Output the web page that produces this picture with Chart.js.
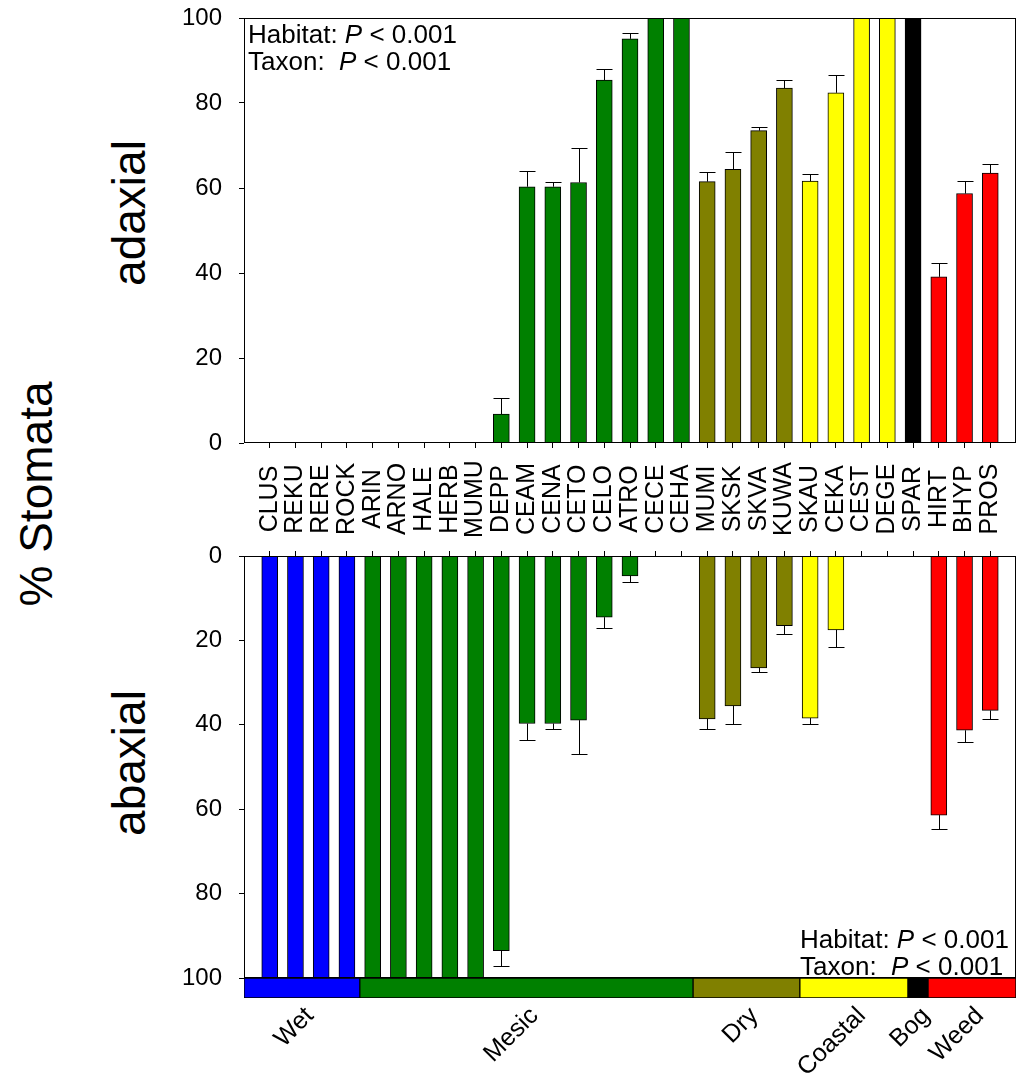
<!DOCTYPE html>
<html>
<head>
<meta charset="utf-8">
<script src="https://cdn.jsdelivr.net/npm/chart.js@4.4.1/dist/chart.umd.min.js"></script>
<style>
  body { margin: 0; background: #fff; }
  #wrap { position: relative; width: 1020px; height: 1076px; font-family: "Liberation Sans", Arial, sans-serif; }
  canvas { position: absolute; left: 0; }
  .title { position: absolute; font-size: 46px; line-height: 1.15; white-space: nowrap; transform: translate(-50%, -50%) rotate(-90deg); }
</style>
</head>
<body>
<div id="wrap">
  <div class="title" style="left:36px; top:494px">% Stomata</div>
  <div class="title" style="left:129px; top:213px">adaxial</div>
  <div class="title" style="left:129px; top:763px">abaxial</div>
  <canvas id="top" width="1020" height="548" style="top:0"></canvas>
  <canvas id="bottom" width="1020" height="460" style="top:540px"></canvas>
  <canvas id="strip" width="1020" height="106" style="top:970px"></canvas>
</div>
<script>
// species codes, left to right
const categories = ['CLUS', 'REKU', 'RERE', 'ROCK', 'ARIN', 'ARNO', 'HALE', 'HERB', 'MUMU', 'DEPP',
  'CEAM', 'CENA', 'CETO', 'CELO', 'ATRO', 'CECE', 'CEHA', 'MUMI', 'SKSK', 'SKVA', 'KUWA',
  'SKAU', 'CEKA', 'CEST', 'DEGE', 'SPAR', 'HIRT', 'BHYP', 'PROS'];
const habitatOf = ['Wet', 'Wet', 'Wet', 'Wet',
  'Mesic', 'Mesic', 'Mesic', 'Mesic', 'Mesic', 'Mesic', 'Mesic', 'Mesic', 'Mesic', 'Mesic', 'Mesic', 'Mesic', 'Mesic',
  'Dry', 'Dry', 'Dry', 'Dry', 'Coastal', 'Coastal', 'Coastal', 'Coastal', 'Bog', 'Weed', 'Weed', 'Weed'];

// % stomata, upper panel (adaxial) and lower panel (abaxial), with +SE
const adaxial    = [0, 0, 0, 0, 0, 0, 0, 0, 0, 6.8, 60.3, 60.3, 61.3, 85.4, 95.1, 100, 100,
  61.5, 64.4, 73.5, 83.5, 61.6, 82.4, 100, 100, 100, 39.1, 58.7, 63.5];
const adaxialErr = [0, 0, 0, 0, 0, 0, 0, 0, 0, 3.8, 3.8, 1.2, 8.2, 2.5, 1.4, 0, 0,
  2.3, 4.1, 0.9, 1.8, 1.6, 4.1, 0, 0, 0, 3.3, 2.9, 2.1];
const abaxial    = [100, 100, 100, 100, 100, 100, 100, 100, 100, 93.5, 39.7, 39.7, 38.9, 14.5, 4.7, 0, 0,
  38.6, 35.5, 26.5, 16.5, 38.4, 17.5, 0, 0, 0, 61.4, 41.3, 36.6];
const abaxialErr = [0, 0, 0, 0, 0, 0, 0, 0, 0, 3.6, 3.8, 1.2, 8.0, 2.5, 1.5, 0, 0,
  2.4, 4.2, 0.9, 1.9, 1.4, 4.1, 0, 0, 0, 3.2, 2.8, 2.0];

// habitat strip under the lower panel
const habitats = ['Wet', 'Mesic', 'Dry', 'Coastal', 'Bog', 'Weed'];
const habitatColors = ['#0000ff', '#008000', '#808000', '#ffff00', '#000000', '#ff0000'];
const habitatSpan = [4.5, 12.95, 4.15, 4.2, 0.78, 3.42];

const yTicks = [0, 20, 40, 60, 80, 100];
const statsLines = [['Habitat: ', 'P', ' < 0.001'], ['Taxon:  ', 'P', ' < 0.001']];

Chart.defaults.font.family = '"Liberation Sans", Arial, sans-serif';
Chart.defaults.color = '#000';

// one empty slot at each end, like the original axis
const xLabels = ['', ...categories, ''];
const pad = arr => [null, ...arr, null];
const barColors = habitatOf.map(h => habitatColors[habitats.indexOf(h)]);
const edgeHidden = c => (c.index === 0 || c.index === xLabels.length - 1) ? 'rgba(0,0,0,0)' : '#000';

const errorBars = (errs) => ({
  id: 'errorBars',
  afterDatasetsDraw(chart) {
    const { ctx, scales: { x, y } } = chart;
    const vals = chart.data.datasets[0].data;
    ctx.save();
    ctx.strokeStyle = '#000';
    ctx.lineWidth = 1;
    errs.forEach((e, i) => {
      if (!e) return;
      const v = vals[i + 1];
      const px = Math.round(x.getPixelForValue(i + 1)) + 0.5;
      const y0 = y.getPixelForValue(v);
      const y1 = Math.round(y.getPixelForValue(v + e)) + 0.5;
      ctx.beginPath();
      ctx.moveTo(px, y0);
      ctx.lineTo(px, y1);
      ctx.moveTo(px - 8, y1);
      ctx.lineTo(px + 8, y1);
      ctx.stroke();
    });
    ctx.restore();
  }
});

const frame = {
  id: 'frame',
  afterDraw(chart) {
    const { ctx, chartArea: a } = chart;
    ctx.save();
    ctx.strokeStyle = '#000';
    ctx.lineWidth = 1;
    ctx.strokeRect(a.left + 0.5, a.top + 0.5, a.width - 1, a.height - 1);
    ctx.restore();
  }
};

const catLabels = {
  id: 'catLabels',
  afterDraw(chart) {
    const { ctx, chartArea: a, scales: { x } } = chart;
    ctx.save();
    ctx.font = '25px "Liberation Sans", Arial, sans-serif';
    ctx.fillStyle = '#000';
    ctx.textAlign = 'center';
    ctx.textBaseline = 'middle';
    categories.forEach((c, i) => {
      ctx.save();
      ctx.translate(x.getPixelForValue(i + 1), a.bottom + 56);
      ctx.rotate(-Math.PI / 2);
      ctx.fillText(c, 0, 0);
      ctx.restore();
    });
    ctx.restore();
  }
};

const statsText = (where) => ({
  id: 'statsText',
  afterDraw(chart) {
    const { ctx, chartArea: a } = chart;
    const x0 = where === 'top' ? a.left + 4 : a.right - 216;
    const y0 = where === 'top' ? a.top + 25 : a.bottom - 30;
    ctx.save();
    ctx.fillStyle = '#000';
    ctx.textBaseline = 'alphabetic';
    statsLines.forEach((parts, li) => {
      let x = x0;
      parts.forEach((t, k) => {
        ctx.font = (k === 1 ? 'italic ' : '') + '26px "Liberation Sans", Arial, sans-serif';
        ctx.fillText(t, x, y0 + li * 27);
        x += ctx.measureText(t).width;
      });
    });
    ctx.restore();
  }
});

const groupLabels = {
  id: 'groupLabels',
  afterDraw(chart) {
    const { ctx, chartArea: a } = chart;
    ctx.save();
    ctx.font = '25px "Liberation Sans", Arial, sans-serif';
    ctx.fillStyle = '#000';
    ctx.textAlign = 'right';
    ctx.textBaseline = 'middle';
    habitats.forEach((h, i) => {
      const el = chart.getDatasetMeta(i).data[0];
      const cx = (el.x + el.base) / 2;
      ctx.save();
      ctx.translate(cx + 8, a.bottom + 14);
      ctx.rotate(-Math.PI / 4);
      ctx.fillText(h, 0, 0);
      ctx.restore();
    });
    ctx.restore();
  }
};

const yScale = (reverse) => ({
  min: 0,
  max: 100,
  reverse: reverse,
  grid: { drawOnChartArea: false, tickLength: 5, color: '#000' },
  border: { display: false },
  ticks: { padding: 17, font: { size: 24 } },
  afterBuildTicks: s => { s.ticks = yTicks.map(v => ({ value: v })); },
  afterFit: s => {
    s.width = 244;
    // label padding should not push the plot area in
    s.paddingTop = 14;
    s.paddingBottom = 14;
  }
});

const xScale = (position, height) => ({
  position: position,
  offset: false,
  grid: { offset: false, drawOnChartArea: false, tickLength: 5, color: edgeHidden },
  border: { display: false },
  ticks: { display: false },
  afterFit: s => { s.height = height; }
});

// upper panel
new Chart(document.getElementById('top'), {
  type: 'bar',
  data: {
    labels: xLabels,
    datasets: [{
      data: pad(adaxial),
      backgroundColor: pad(barColors),
      borderColor: '#000',
      borderWidth: 1,
      barThickness: 16
    }]
  },
  options: {
    responsive: false,
    animation: false,
    layout: { padding: { left: 0, right: 4, top: 18, bottom: 0 } },
    plugins: { legend: { display: false }, tooltip: { enabled: false } },
    scales: { x: xScale('bottom', 105), y: yScale(false) }
  },
  plugins: [errorBars(adaxialErr), frame, catLabels, statsText('top')]
});

// lower panel, hanging bars
new Chart(document.getElementById('bottom'), {
  type: 'bar',
  data: {
    labels: xLabels,
    datasets: [{
      data: pad(abaxial),
      backgroundColor: pad(barColors),
      borderColor: '#000',
      borderWidth: 1,
      barThickness: 16
    }]
  },
  options: {
    responsive: false,
    animation: false,
    layout: { padding: { left: 0, right: 4, top: 0, bottom: 22 } },
    plugins: { legend: { display: false }, tooltip: { enabled: false } },
    scales: { x: xScale('top', 16), y: yScale(true) }
  },
  plugins: [errorBars(abaxialErr), frame, statsText('bottom')]
});

// habitat strip
new Chart(document.getElementById('strip'), {
  type: 'bar',
  data: {
    labels: ['Habitat'],
    datasets: habitats.map((h, i) => ({
      label: h,
      data: [habitatSpan[i]],
      backgroundColor: habitatColors[i],
      borderColor: '#000',
      borderWidth: 1,
      borderSkipped: false,
      barPercentage: 1,
      categoryPercentage: 1
    }))
  },
  options: {
    indexAxis: 'y',
    responsive: false,
    animation: false,
    layout: { padding: { left: 244, right: 4, top: 8, bottom: 78 } },
    plugins: { legend: { display: false }, tooltip: { enabled: false } },
    scales: {
      x: { stacked: true, min: 0, max: 30, display: false },
      y: { stacked: true, display: false }
    }
  },
  plugins: [groupLabels]
});
</script>
</body>
</html>
